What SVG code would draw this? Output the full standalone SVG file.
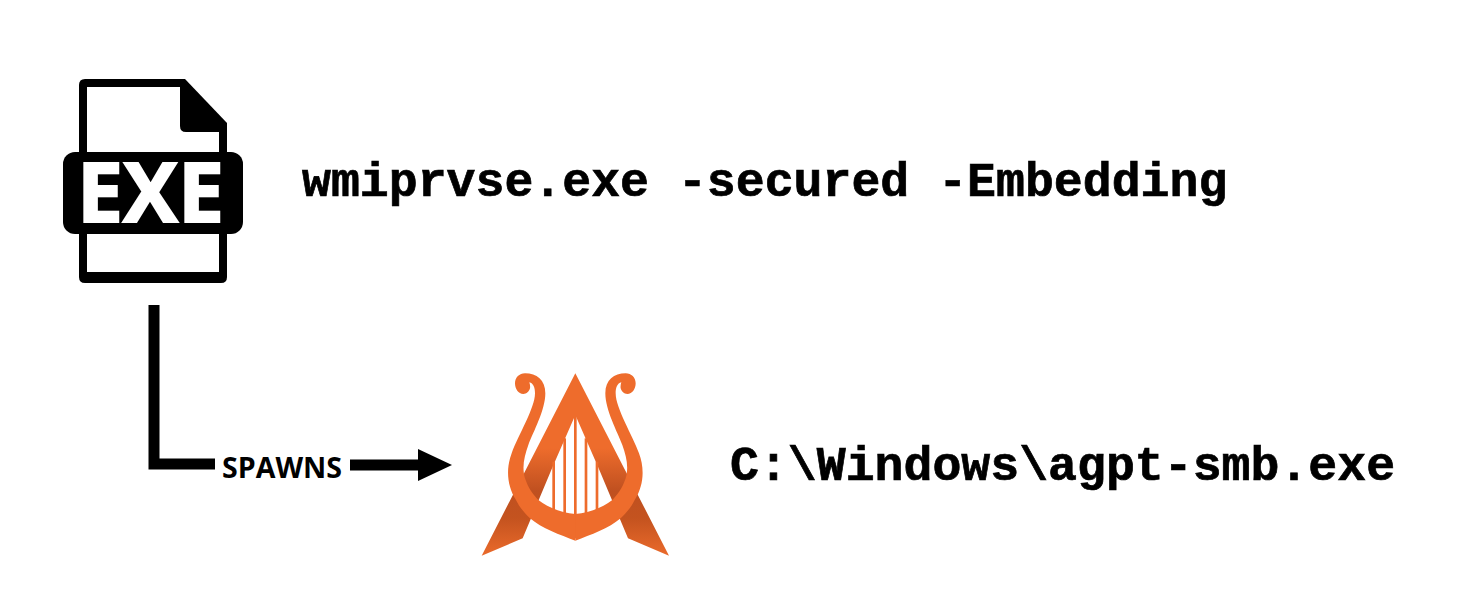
<svg xmlns="http://www.w3.org/2000/svg" xmlns:xlink="http://www.w3.org/1999/xlink" width="1458" height="610" viewBox="0 0 1458 610">
<style>
.cmd{font-family:"Liberation Mono","DejaVu Sans Mono",monospace;font-weight:700;font-size:48.2px;fill:#000;stroke:#000;stroke-width:.7px}
.lbl{font-family:"Open Sans","Noto Sans",sans-serif;font-weight:700;fill:#000}
.line{fill:none;stroke:#000;stroke-width:11}
.lyre{fill:#ee6c2c}
</style>
<defs>
<linearGradient id="leg" gradientUnits="userSpaceOnUse" x1="0" y1="250" x2="0" y2="572">
<stop offset="0" stop-color="#ee6c2c"/>
<stop offset="0.4" stop-color="#bf5020"/>
<stop offset="0.65" stop-color="#c4531f"/>
<stop offset="1" stop-color="#ea6a2b"/>
</linearGradient>
<path id="half" d="M316 527C270 510 215 490 180 460C165 445 150 430 138 405C110 360 108 310 125 265C145 210 195 130 195 85C195 68 190 55 178 52C180 58 181 64 180 70C177 80 170 87 160 87C145 87 135 72 135 55C135 38 148 25 165 25C200 25 226 45 226 85C226 135 190 200 175 240C163 275 155 305 165 340C175 370 190 390 205 405C235 428 275 443 316 447Z"/>
</defs>
<rect width="1458" height="610" fill="#fff"/>
<g id="connectors">
<path class="line" d="M154 305V464H215"/>
<path class="line" d="M350 465H420"/>
<polygon points="418,449 452,465 418,481" fill="#000"/>
</g>
<g id="exe-icon">
<path d="M85 79H185L227 123V277Q227 283 221 283H85Q79 283 79 277V85Q79 79 85 79Z" fill="#000"/>
<path d="M87 87H180V126Q180 132 186 132H219V272H87Z" fill="#fff"/>
<rect x="63" y="152" width="180" height="82" rx="12" fill="#000"/>
<text class="lbl" x="77" y="222" font-size="82" textLength="147" lengthAdjust="spacingAndGlyphs" style="fill:#fff;stroke:#fff;stroke-width:2px">EXE</text>
</g>
<g id="cmd-wmiprvse">
<text class="cmd" x="302" y="196">wmiprvse.exe -secured -Embedding</text>
</g>
<g id="label-spawns">
<text class="lbl" x="222" y="478" font-size="29" textLength="120" lengthAdjust="spacingAndGlyphs">SPAWNS</text>
</g>
<g id="lyre-icon" transform="translate(470 365) scale(.33333)">
<path d="M316 25L597 572L474 520L384 305L316 150L248 305L158 520L35 572Z" fill="url(#leg)"/>
<g class="lyre">
<rect x="247" y="290" width="8" height="150"/>
<rect x="280" y="220" width="8" height="225"/>
<rect x="312" y="150" width="8" height="370"/>
<rect x="344" y="220" width="8" height="225"/>
<rect x="377" y="290" width="8" height="150"/>
<use xlink:href="#half" href="#half"/>
<use xlink:href="#half" href="#half" transform="matrix(-1 0 0 1 632 0)"/>
</g>
</g>
<g id="cmd-agpt">
<text class="cmd" x="730" y="480">C:\Windows\agpt-smb.exe</text>
</g>
</svg>
